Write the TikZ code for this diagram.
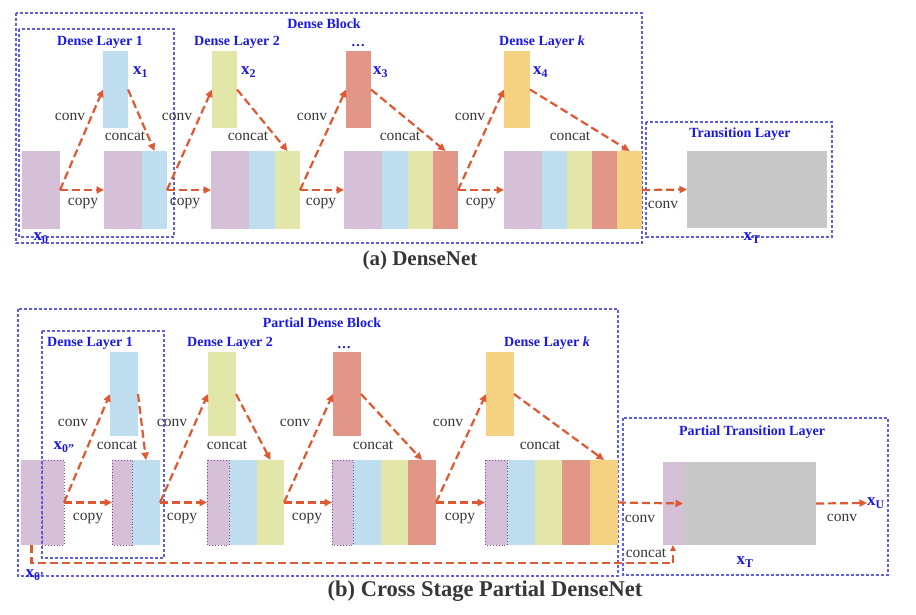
\documentclass[tikz,border=0pt]{standalone}
\usepackage{fontspec}
\setmainfont{Liberation Serif}
\usetikzlibrary{arrows.meta}
\definecolor{cpur}{RGB}{213,192,216}
\definecolor{cblu}{RGB}{190,222,240}
\definecolor{cgrn}{RGB}{226,230,168}
\definecolor{cred}{RGB}{226,150,135}
\definecolor{cyel}{RGB}{245,210,130}
\definecolor{cgry}{RGB}{200,200,200}
\definecolor{carr}{RGB}{222,88,50}
\definecolor{cbox}{RGB}{95,95,225}
\definecolor{ctitle}{RGB}{25,25,225}
\definecolor{ctxt}{RGB}{55,55,55}
\definecolor{cdot}{RGB}{140,70,170}
\begin{document}
\begin{tikzpicture}[x=1pt,y=-1pt,
  seg/.style={inner sep=0pt, outer sep=0pt, anchor=north west, draw=none},
  top/.style={seg, minimum height=77pt},
  bot/.style={seg, minimum height=78pt},
  topb/.style={seg, minimum height=84pt},
  botb/.style={seg, minimum height=85pt},
  dotb/.style={draw=cdot, line width=0.9pt, dotted},
  lbl/.style={font=\fontsize{15.5}{17}\selectfont, text=ctxt, inner sep=0pt},
  ttl/.style={font=\fontsize{14}{16}\selectfont\bfseries, text=ctitle, inner sep=0pt},
  xl/.style={font=\fontsize{17}{19}\selectfont\bfseries, text=ctitle, inner sep=0pt},
  captxt/.style={text=ctxt, inner sep=0pt},
  arr/.style={draw=carr, line width=2.2pt, dash pattern=on 8pt off 4pt, -{Triangle[length=7.5pt,width=7pt]}},
  dbox/.style={draw=cbox, line width=1.1pt, dash pattern=on 3pt off 2pt}
]
\useasboundingbox[fill=white] (0,0) rectangle (916,614);

% ================= (a) DenseNet =================
\draw[dbox] (16,13) rectangle (642,243);
\draw[dbox] (19,29) rectangle (174,237);
\draw[dbox] (646,122) rectangle (832,237);

\node[bot, fill=cpur, minimum width=38pt] (a0) at (22,151) {};
\node[top, fill=cblu, minimum width=25pt] (ax1) at (103,51) {};
\node[bot, fill=cpur, minimum width=38pt] (a1p) at (104,151) {};
\node[bot, fill=cblu, minimum width=25pt] (a1b) at (142,151) {};

\node[top, fill=cgrn, minimum width=25pt] (ax2) at (212,51) {};
\node[bot, fill=cpur, minimum width=38pt] (a2p) at (211,151) {};
\node[bot, fill=cblu, minimum width=26pt] (a2b) at (249,151) {};
\node[bot, fill=cgrn, minimum width=25pt] (a2g) at (275,151) {};

\node[top, fill=cred, minimum width=25pt] (ax3) at (346,51) {};
\node[bot, fill=cpur, minimum width=38pt] (a3p) at (344,151) {};
\node[bot, fill=cblu, minimum width=26pt] (a3b) at (382,151) {};
\node[bot, fill=cgrn, minimum width=25pt] (a3g) at (408,151) {};
\node[bot, fill=cred, minimum width=25pt] (a3r) at (433,151) {};

\node[top, fill=cyel, minimum width=26pt] (ax4) at (504,51) {};
\node[bot, fill=cpur, minimum width=38pt] (a4p) at (504,151) {};
\node[bot, fill=cblu, minimum width=25pt] (a4b) at (542,151) {};
\node[bot, fill=cgrn, minimum width=25pt] (a4g) at (567,151) {};
\node[bot, fill=cred, minimum width=25pt] (a4r) at (592,151) {};
\node[bot, fill=cyel, minimum width=25pt] (a4y) at (617,151) {};

\node[seg, fill=cgry, minimum width=140pt, minimum height=77pt] (ag) at (687,151) {};

\draw[arr] (a0.east) -- (a1p.west);
\draw[arr] (a0.east) -- (ax1.west);
\draw[arr] (ax1.east) -- (a1b.north);
\draw[arr] (a1b.east) -- (a2p.west);
\draw[arr] (a1b.east) -- (ax2.west);
\draw[arr] (ax2.east) -- (a2g.north);
\draw[arr] (a2g.east) -- (a3p.west);
\draw[arr] (a2g.east) -- (ax3.west);
\draw[arr] (ax3.east) -- (a3r.north);
\draw[arr] (a3r.east) -- (a4p.west);
\draw[arr] (a3r.east) -- (ax4.west);
\draw[arr] (ax4.east) -- (a4y.north);
\draw[arr] (a4y.east) -- (ag.west);

\node[ttl] (tDB) at (324,24) {Dense Block};
\node[ttl] (tL1) at (100,42) {Dense Layer 1};
\node[ttl] (tL2) at (237,42) {Dense Layer 2};
\node[ttl, anchor=base] (tL3) at (358,46) {\dots};
\node[ttl] (tLk) at (542,42) {Dense Layer \textit{k}};
\node[ttl] (tTL) at (740,134) {Transition Layer};

\node[xl, anchor=west] (lx1) at (133,72) {x\textsubscript{1}};
\node[xl, anchor=west] (lx2) at (241,72) {x\textsubscript{2}};
\node[xl, anchor=west] (lx3) at (373,72) {x\textsubscript{3}};
\node[xl, anchor=west] (lx4) at (533,72) {x\textsubscript{4}};
\node[xl] (lx0) at (41,238) {x\textsubscript{0}};
\node[xl] (lxT) at (752,238) {x\textsubscript{T}};

\node[lbl] (cv1) at (70,117) {conv};
\node[lbl] (cv2) at (177,117) {conv};
\node[lbl] (cv3) at (312,117) {conv};
\node[lbl] (cv4) at (470,117) {conv};
\node[lbl] (cv5) at (663,205) {conv};
\node[lbl] (cc1) at (125,136) {concat};
\node[lbl] (cc2) at (248,136) {concat};
\node[lbl] (cc3) at (400,136) {concat};
\node[lbl] (cc4) at (570,136) {concat};
\node[lbl] (cp1) at (83,204) {copy};
\node[lbl] (cp2) at (185,204) {copy};
\node[lbl] (cp3) at (321,204) {copy};
\node[lbl] (cp4) at (481,204) {copy};

\node[captxt, font=\fontsize{21}{24}\selectfont\bfseries] (capa) at (420,260) {(a) DenseNet};

% ================= (b) CSPDenseNet =================
\draw[dbox] (18,309) rectangle (618,576);
\draw[dbox] (623,418) rectangle (888,575);

\node[botb, fill=cpur, minimum width=21pt] (b0l) at (21,460) {};
\node[botb, fill=cpur, minimum width=22pt, dotb] (b0r) at (42,460) {};
\draw[dbox] (42,331) rectangle (164,558);

\node[topb, fill=cblu, minimum width=28pt] (bx1) at (110,352) {};
\node[botb, fill=cpur, minimum width=20pt] (b1p) at (112,460) {};
\node[botb, fill=cblu, minimum width=28pt] (b1b) at (132,460) {};

\node[topb, fill=cgrn, minimum width=28pt] (bx2) at (208,352) {};
\node[botb, fill=cpur, minimum width=22pt] (b2p) at (207,460) {};
\node[botb, fill=cblu, minimum width=28pt] (b2b) at (229,460) {};
\node[botb, fill=cgrn, minimum width=27pt] (b2g) at (257,460) {};

\node[topb, fill=cred, minimum width=28pt] (bx3) at (333,352) {};
\node[botb, fill=cpur, minimum width=21pt] (b3p) at (332,460) {};
\node[botb, fill=cblu, minimum width=28pt] (b3b) at (353,460) {};
\node[botb, fill=cgrn, minimum width=27pt] (b3g) at (381,460) {};
\node[botb, fill=cred, minimum width=28pt] (b3r) at (408,460) {};

\node[topb, fill=cyel, minimum width=28pt] (bx4) at (486,352) {};
\node[botb, fill=cpur, minimum width=22pt] (b4p) at (485,460) {};
\node[botb, fill=cblu, minimum width=28pt] (b4b) at (507,460) {};
\node[botb, fill=cgrn, minimum width=27pt] (b4g) at (535,460) {};
\node[botb, fill=cred, minimum width=28pt] (b4r) at (562,460) {};
\node[botb, fill=cyel, minimum width=28pt] (b4y) at (590,460) {};

\node[seg, fill=cpur, minimum width=20pt, minimum height=83pt] (bt) at (663,462) {};
\node[seg, fill=cgry, minimum width=133pt, minimum height=83pt] (bg) at (683,462) {};

\draw[dotb] (b1p.north west) rectangle (b1p.south east);
\draw[dotb] (b2p.north west) rectangle (b2p.south east);
\draw[dotb] (b3p.north west) rectangle (b3p.south east);
\draw[dotb] (b4p.north west) rectangle (b4p.south east);

\node[xl, anchor=west] (xU) at (867,503) {x\textsubscript{U}};

\draw[arr] (b0r.east) -- (b1p.west);
\draw[arr] (b0r.east) -- (bx1.west);
\draw[arr] (bx1.east) -- (b1b.north);
\draw[arr] (b1b.east) -- (b2p.west);
\draw[arr] (b1b.east) -- (bx2.west);
\draw[arr] (bx2.east) -- (b2g.north);
\draw[arr] (b2g.east) -- (b3p.west);
\draw[arr] (b2g.east) -- (bx3.west);
\draw[arr] (bx3.east) -- (b3r.north);
\draw[arr] (b3r.east) -- (b4p.west);
\draw[arr] (b3r.east) -- (bx4.west);
\draw[arr] (bx4.east) -- (b4y.north);
\draw[arr] (b4y.east) -- (bg.west);
\draw[arr] (bg.east) -- (xU.west);
\draw[arr, -{Triangle[length=6pt,width=5.5pt]}] (b0l.south) -- ++(0,18) -| (bt.south);

\node[ttl] (tPDB) at (322,323) {Partial Dense Block};
\node[ttl] (uL1) at (90,343) {Dense Layer 1};
\node[ttl] (uL2) at (230,343) {Dense Layer 2};
\node[ttl, anchor=base] (uL3) at (344,348) {\dots};
\node[ttl] (uLk) at (547,343) {Dense Layer \textit{k}};
\node[ttl] (tPTL) at (752,432) {Partial Transition Layer};

\node[xl] (lx0b) at (64,447) {x\textsubscript{0”}};
\node[xl] (lx0a) at (35,575) {x\textsubscript{0’}};
\node[xl] (lxTb) at (745,562) {x\textsubscript{T}};

\node[lbl] (dv1) at (73,423) {conv};
\node[lbl] (dv2) at (172,423) {conv};
\node[lbl] (dv3) at (295,423) {conv};
\node[lbl] (dv4) at (448,423) {conv};
\node[lbl] (dv5) at (640,519) {conv};
\node[lbl] (dv6) at (842,518) {conv};
\node[lbl] (dc1) at (117,445) {concat};
\node[lbl] (dc2) at (227,445) {concat};
\node[lbl] (dc3) at (373,445) {concat};
\node[lbl] (dc4) at (540,445) {concat};
\node[lbl] (dc5) at (646,553) {concat};
\node[lbl] (dp1) at (88,519) {copy};
\node[lbl] (dp2) at (182,519) {copy};
\node[lbl] (dp3) at (307,519) {copy};
\node[lbl] (dp4) at (460,519) {copy};

\node[captxt, font=\fontsize{22.5}{26}\selectfont\bfseries] (capb) at (485,591) {(b) Cross Stage Partial DenseNet};
\end{tikzpicture}
\end{document}
